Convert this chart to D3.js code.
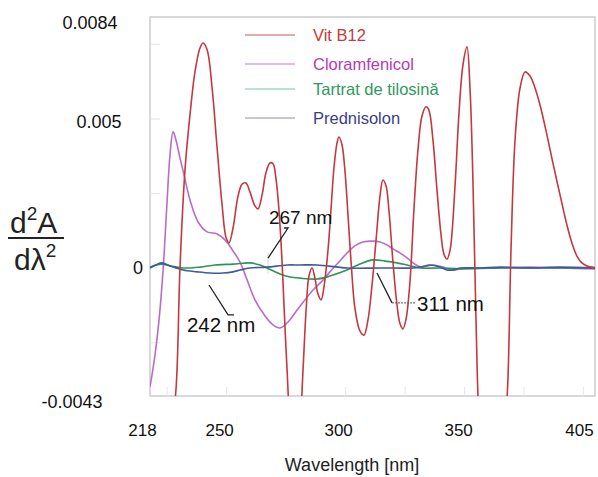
<!DOCTYPE html>
<html>
<head>
<meta charset="utf-8">
<script src="https://cdn.jsdelivr.net/npm/d3@7"></script>
<style>
body { margin: 0; background: #fff; }
text { font-family: "Liberation Sans", Arial, sans-serif; }
</style>
</head>
<body>
<div id="chart"></div>
<script>
// second derivative spectra, [wavelength nm, d2A/dl2]
var vitB12 = [[218.0,-0.0090],[222.2,-0.0075],[226.4,-0.0058],[228.9,-0.0041],[230.6,0.0000],[232.7,0.00327],[234.8,0.00512],[236.9,0.00656],[239.0,0.00736],[240.3,0.00753],[242.0,0.00730],[244.1,0.00602],[246.2,0.00401],[248.3,0.00210],[249.9,0.00103],[251.2,0.00083],[252.9,0.00133],[255.0,0.00240],[256.7,0.00280],[258.3,0.00284],[260.0,0.00254],[262.1,0.00207],[263.4,0.00197],[265.1,0.00244],[266.7,0.00317],[268.4,0.00351],[269.7,0.00348],[270.9,0.00301],[272.2,0.00193],[273.5,0.00019],[274.3,-0.00125],[275.6,-0.00343],[276.8,-0.00510],[278.9,-0.00628],[281.0,-0.00527],[282.3,-0.00343],[283.6,-0.00142],[284.8,-0.00028],[286.1,-0.00001],[287.3,-0.00035],[288.6,-0.00088],[289.9,-0.00108],[291.1,-0.00065],[292.8,0.00059],[294.1,0.00200],[295.3,0.00334],[296.6,0.00418],[297.4,0.00438],[298.7,0.00411],[299.9,0.00327],[301.2,0.00177],[302.5,0.00019],[304.1,-0.00135],[306.2,-0.00212],[307.9,-0.00226],[309.6,-0.00175],[311.3,-0.00058],[313.0,0.00093],[314.7,0.00243],[315.9,0.00294],[317.2,0.00274],[318.4,0.00193],[320.1,0.00019],[321.8,-0.00125],[323.1,-0.00189],[324.3,-0.00205],[325.6,-0.00172],[327.3,-0.00041],[328.9,0.00193],[330.6,0.00394],[332.3,0.00508],[334.0,0.00539],[335.2,0.00528],[336.9,0.00428],[338.6,0.00260],[340.3,0.00110],[341.5,0.00046],[342.8,0.00029],[344.1,0.00059],[346.2,0.00277],[347.8,0.00512],[349.5,0.00679],[351.2,0.00740],[352.5,0.00596],[353.7,0.00294],[355.0,-0.00175],[356.3,-0.00510],[358.8,-0.00711],[361.7,-0.00762],[365.1,-0.00678],[367.2,-0.00544],[368.4,-0.00376],[369.7,0.00059],[371.4,0.00428],[373.5,0.00602],[375.6,0.00656],[377.7,0.00642],[379.8,0.00602],[381.9,0.00545],[384.8,0.00445],[387.3,0.00351],[390.3,0.00244],[393.2,0.00143],[395.3,0.00083],[397.4,0.00039],[399.5,0.00016],[401.6,0.00006],[405.0,0.0]];

var cloramfenicol = [[218.0,-0.0040],[220.1,-0.00293],[221.8,-0.00175],[223.5,-0.00008],[225.1,0.00210],[226.4,0.00378],[227.7,0.00455],[228.9,0.00428],[230.6,0.00368],[232.3,0.00311],[234.8,0.00227],[238.2,0.00153],[242.0,0.00120],[246.2,0.00113],[249.5,0.00093],[252.9,0.00056],[255.8,0.00019],[258.8,-0.00041],[262.1,-0.00108],[265.5,-0.00152],[269.3,-0.00189],[272.6,-0.00202],[276.0,-0.00182],[279.8,-0.00142],[283.1,-0.00108],[286.5,-0.00075],[290.3,-0.00045],[293.6,-0.00014],[297.4,0.00019],[300.8,0.00049],[304.1,0.00073],[307.5,0.00086],[311.7,0.00089],[314.7,0.00086],[317.6,0.00076],[320.1,0.00063],[323.1,0.00049],[326.0,0.00033],[328.5,0.00016],[330.6,0.00006],[332.7,0.00002],[334.8,0.00006],[336.9,0.00009],[339.0,0.00006],[341.1,0.00002],[343.2,-0.00004],[345.3,-0.00008],[348.3,-0.00004],[351.2,-0.00001],[356.7,-0.00001],[365.1,-0.00001],[377.7,0.00002],[390.3,-0.00001],[405.0,-0.00004]];

var tartrat = [[218.0,0.00002],[220.5,0.00009],[223.0,0.00012],[226.4,0.00006],[231.9,-0.00001],[239.0,0.00002],[245.3,0.00009],[252.9,0.00012],[260.0,0.00016],[264.2,0.00009],[267.2,-0.00001],[272.6,-0.00021],[276.8,-0.00031],[281.0,-0.00035],[288.2,-0.00038],[293.6,-0.00028],[300.8,-0.00008],[306.2,0.00012],[311.7,0.00026],[316.8,0.00022],[321.8,0.00016],[326.0,0.00009],[331.5,-0.00001],[339.9,-0.00001],[348.3,-0.00004],[365.1,-0.00001],[405.0,-0.00001]];

var prednisolon = [[218.0,-0.00001],[220.5,0.00009],[223.0,0.00016],[226.4,0.00006],[231.9,-0.00008],[237.8,-0.00014],[243.2,-0.00018],[248.7,-0.00018],[252.9,-0.00014],[255.8,-0.00008],[260.0,-0.00001],[267.2,0.00002],[275.6,0.00009],[281.0,0.00009],[288.2,0.00009],[300.8,-0.00001],[314.7,-0.00001],[328.5,-0.00001],[331.5,0.00002],[335.7,0.00009],[339.9,0.00002],[342.8,-0.00008],[345.3,-0.00008],[348.3,-0.00001],[356.7,-0.00001],[365.1,0.00002],[377.7,-0.00001],[390.3,0.00002],[405.0,-0.00001]];

var seriesNames = ["Vit B12", "Cloramfenicol", "Tartrat de tilosină", "Prednisolon"];
var xTicks = [218, 250, 300, 350, 405];
var xMinorTicks = [225, 250, 275, 300, 325, 350, 375, 400];
var yTicks = [0.0084, 0.005, 0, -0.0043];
var yTickLabels = ["0.0084", "0.005", "0", "-0.0043"];
var yMinorTicks = [0.0075, 0.005, 0.0025, -0.0025];

// marked wavelengths: label, tip [nm,val], elbow [nm,val], end nm, text [nm,val]
var markLabels = ["267 nm", "242 nm", "311 nm"];
var markTips = [[267.6, 0.00032], [242.8, -0.00058], [313.4, -0.00018]];
var markElbows = [[276.0, 0.00133], [250.8, -0.00158], [319.7, -0.00118]];
var markEnds = [274.3, 253.3, 329.4];
var markText = [[268.0, 0.00148], [233.5, -0.00215], [330.2, -0.00145]];

// layout
var width = 598, height = 477;
var plotLeft = 150, plotRight = 595, plotTop = 17, plotBottom = 396;
var lineColors = ["#c4383f", "#b96dc6", "#2f9455", "#3f5a9c"];
var textColors = ["#c23a3a", "#b53ab8", "#2e9a5e", "#3b3d8c"];
var legendLineColors = ["#c8585a", "#c07cc8", "#7cc4a4", "#8c90a8"];
var legendY = [35, 64, 89, 118];
var xTickDx = [-8, -7, -7, -6, -16];
var yTickPos = [[90, 5.5], [99, 3.5], [138, -0.5], [72, 5]];
var markFontSize = [19, 20.5, 20.5];

var x = d3.scaleLinear().domain([218, 405]).range([plotLeft, plotRight]);
var y = d3.scaleLinear().domain([-0.0043, 0.0084]).range([plotBottom, plotTop]);

var svg = d3.select("#chart").append("svg")
    .attr("width", width)
    .attr("height", height);

svg.append("defs").append("clipPath").attr("id", "plot")
    .append("rect")
    .attr("x", plotLeft).attr("y", plotTop)
    .attr("width", plotRight - plotLeft).attr("height", plotBottom - plotTop);

// frame
svg.append("rect")
    .attr("x", plotLeft).attr("y", plotTop)
    .attr("width", plotRight - plotLeft).attr("height", plotBottom - plotTop)
    .attr("fill", "none")
    .attr("stroke", "#cdcdcd")
    .attr("stroke-width", 1.5);

// faint minor ticks
svg.append("g")
    .attr("transform", "translate(0," + plotBottom + ")")
    .call(d3.axisBottom(x).tickValues(xMinorTicks).tickSize(-9).tickFormat(""))
    .call(g => g.select(".domain").remove())
    .selectAll("line").attr("stroke", "#e6e6e6");

svg.append("g")
    .attr("transform", "translate(" + plotLeft + ",0)")
    .call(d3.axisLeft(y).tickValues(yMinorTicks).tickSize(-10).tickFormat(""))
    .call(g => g.select(".domain").remove())
    .selectAll("line").attr("stroke", "#e3e3e3");

// x tick labels
var xAxis = svg.append("g")
    .attr("transform", "translate(0," + plotBottom + ")")
    .call(d3.axisBottom(x).tickValues(xTicks).tickSize(0).tickFormat(d => d));
xAxis.select(".domain").remove();
xAxis.selectAll("text")
    .attr("font-family", "'Liberation Sans', Arial, sans-serif")
    .attr("font-size", 17)
    .attr("fill", "#111")
    .attr("y", 0).attr("dy", 0)
    .attr("transform", "translate(0,40)")
    .attr("dx", (d, i) => xTickDx[i]);

// y tick labels
var yAxis = svg.append("g")
    .call(d3.axisLeft(y).tickValues(yTicks).tickSize(0).tickFormat((d, i) => yTickLabels[i]));
yAxis.select(".domain").remove();
yAxis.selectAll("text")
    .attr("font-family", "'Liberation Sans', Arial, sans-serif")
    .attr("font-size", 18)
    .attr("fill", "#111")
    .attr("text-anchor", "middle")
    .attr("x", (d, i) => yTickPos[i][0])
    .attr("dy", (d, i) => (yTickPos[i][1] + 6) + "px");

// faint marker at 267 nm
svg.append("line")
    .attr("x1", x(267.6)).attr("x2", x(267.6))
    .attr("y1", y(0.0005)).attr("y2", y(-0.0002))
    .attr("stroke", "#d6d6d6").attr("stroke-width", 1);

// curves
var line = d3.line()
    .x(d => x(d[0]))
    .y(d => y(d[1]))
    .curve(d3.curveCatmullRom.alpha(0.5));

var allSeries = [vitB12, cloramfenicol, tartrat, prednisolon];
var drawOrder = [1, 2, 3, 0];
var gLines = svg.append("g").attr("clip-path", "url(#plot)");
drawOrder.forEach(function (i) {
    gLines.append("path")
        .datum(allSeries[i])
        .attr("d", line)
        .attr("fill", "none")
        .attr("stroke", lineColors[i])
        .attr("stroke-width", 1.6);
});

// legend
var legend = svg.append("g");
seriesNames.forEach(function (name, i) {
    legend.append("line")
        .attr("x1", 245).attr("x2", 295)
        .attr("y1", legendY[i]).attr("y2", legendY[i])
        .attr("stroke", legendLineColors[i])
        .attr("stroke-width", 1);
    legend.append("text")
        .attr("x", 313).attr("y", legendY[i] + 6)
        .attr("font-size", 16.5)
        .attr("fill", textColors[i])
        .text(name);
});

// wavelength markers
markLabels.forEach(function (label, i) {
    var tip = markTips[i], elbow = markElbows[i];
    svg.append("path")
        .attr("d", "M" + x(tip[0]) + "," + y(tip[1]) +
            "L" + x(elbow[0]) + "," + y(elbow[1]) +
            (i === 2 ? "" : "L" + x(markEnds[i]) + "," + y(elbow[1])))
        .attr("fill", "none")
        .attr("stroke", "#222")
        .attr("stroke-width", 1.3);
    if (i === 2) {
        svg.append("line")
            .attr("x1", x(elbow[0])).attr("x2", x(markEnds[i]))
            .attr("y1", y(elbow[1])).attr("y2", y(elbow[1]))
            .attr("stroke", "#555")
            .attr("stroke-width", 1)
            .attr("stroke-dasharray", "2,1");
    }
    svg.append("text")
        .attr("x", x(markText[i][0]))
        .attr("y", y(markText[i][1]))
        .attr("font-size", markFontSize[i])
        .attr("fill", "#111")
        .text(label);
});

// axis titles
svg.append("text")
    .attr("x", 352).attr("y", 471)
    .attr("text-anchor", "middle")
    .attr("font-size", 18)
    .attr("fill", "#222")
    .text("Wavelength [nm]");

var num = svg.append("text")
    .attr("x", 10).attr("y", 233)
    .attr("font-size", 30)
    .attr("fill", "#222");
num.append("tspan").text("d");
num.append("tspan").attr("font-size", 19).attr("dy", -13).text("2");
num.append("tspan").attr("dy", 13).text("A");

svg.append("line")
    .attr("x1", 8).attr("x2", 64)
    .attr("y1", 238).attr("y2", 238)
    .attr("stroke", "#222")
    .attr("stroke-width", 2);

var den = svg.append("text")
    .attr("x", 14).attr("y", 270)
    .attr("font-size", 30)
    .attr("fill", "#222");
den.append("tspan").text("dλ");
den.append("tspan").attr("font-size", 19).attr("dy", -13).text("2");
</script>
</body>
</html>
